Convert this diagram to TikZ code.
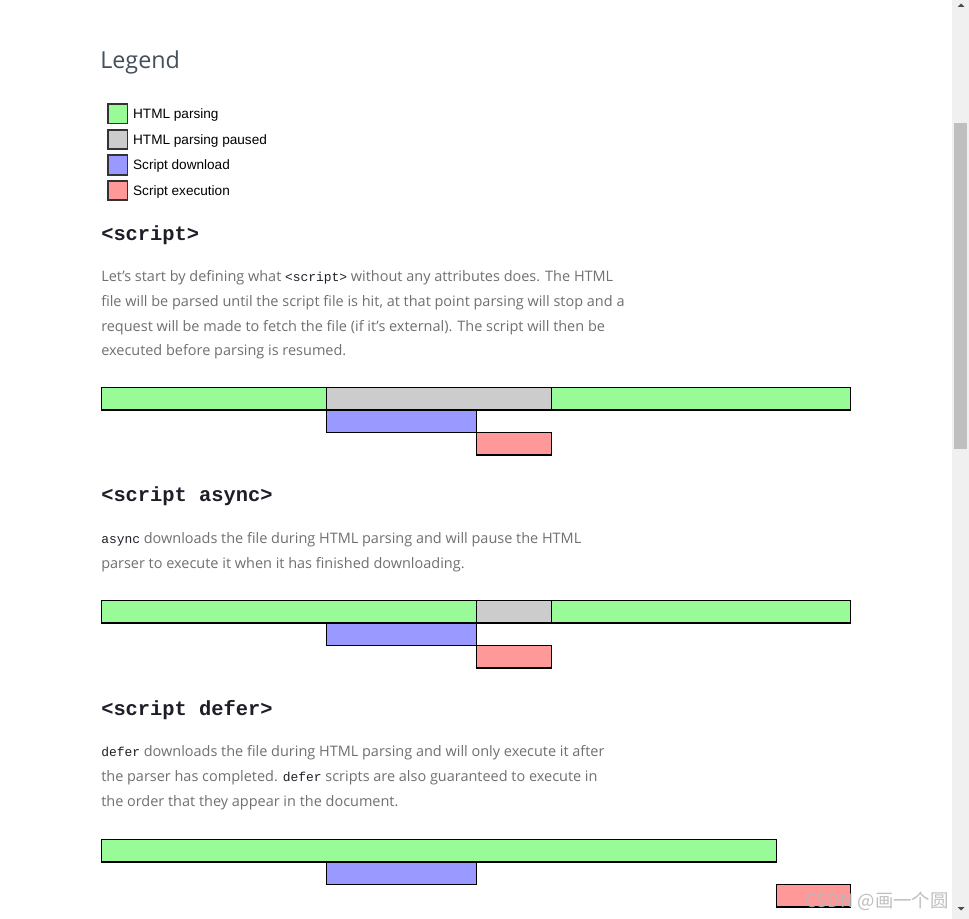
\documentclass[tikz,border=0pt]{standalone}
\usepackage{fontspec}
\setmainfont{Open Sans}
\setsansfont{Liberation Sans}
\setmonofont{Liberation Mono}
\newfontfamily\cjkfont{Noto Sans CJK SC}
\usetikzlibrary{positioning}
\definecolor{parsecol}{HTML}{98FB98}
\definecolor{pausecol}{HTML}{CCCCCC}
\definecolor{loadcol}{HTML}{9999FF}
\definecolor{execcol}{HTML}{FF9999}
\definecolor{bodyink}{HTML}{707070}
\definecolor{codeink}{HTML}{1E1E28}
\definecolor{titleink}{HTML}{44505C}
\newcommand{\srccode}[1]{{\ttfamily\fontsize{9.7}{12}\selectfont\color{codeink}#1}}
\tikzset{
		seg/.style={draw=black, line width=1.1pt},
		legbox/.style={draw=black!80, line width=1.4pt, minimum size=14.6pt, inner sep=0pt},
		legtext/.style={font=\sffamily\fontsize{10.2}{12}\selectfont, inner sep=0pt, text height=7.3pt, text depth=0pt},
		heading/.style={anchor=base west, inner sep=0pt, font=\ttfamily\bfseries\fontsize{15.3}{18}\selectfont, text=codeink},
		bodytxt/.style={anchor=base west, inner sep=0pt, font=\fontsize{10.85}{14}\selectfont, text=bodyink}
	}

\begin{document}
\begin{tikzpicture}[x=0.75pt, y=-0.75pt] % one unit = one pixel of the page, y downwards
		\useasboundingbox (0,0) rectangle (969,919);
		\fill[white] (0,0) rectangle (969,919);
		% scrollbar
		\fill[black!6] (952,0) rectangle (969,919);
		\fill[black!25] (954,123) rectangle (967,449);
		\fill[black!70] (957.5,7) -- (964.5,7) -- (961,3.5) -- cycle;
		\fill[black!70] (957.5,907) -- (964.5,907) -- (961,910.5) -- cycle;

		% legend
		\node[anchor=base west, inner sep=0pt, font=\fontsize{17.5}{20}\selectfont, text=titleink] (legend) at (100,68.3) {Legend};
		\foreach \col/\txt [count=\i from 0] in {parsecol/HTML parsing, pausecol/HTML parsing paused, loadcol/Script download, execcol/Script execution}{
			\node[legbox, fill=\col] (leg\i) at (117.8,113.8+25.6*\i) {};
			\node[legtext, right=3.3pt of leg\i] (legt\i) {\txt};
		}

		% the three sections
		\node[heading] (h1) at (101,240.7) {<script>};
		\foreach \ln [count=\k from 0] in {
			{Let’s start by defining what \srccode{<script>} without any attributes does. The HTML},
			{file will be parsed until the script file is hit, at that point parsing will stop and a},
			{request will be made to fetch the file (if it’s external). The script will then be},
			{executed before parsing is resumed.}}
			\node[bodytxt] (pa\k) at (101,281.7+24.7*\k) {\ln};

		\node[heading] (h2) at (101,501.7) {<script async>};
		\foreach \ln [count=\k from 0] in {
			{\srccode{async} downloads the file during HTML parsing and will pause the HTML},
			{parser to execute it when it has finished downloading.}}
			\node[bodytxt] (pb\k) at (101,543.7+24.7*\k) {\ln};

		\node[heading] (h3) at (101,715.7) {<script defer>};
		\foreach \ln [count=\k from 0] in {
			{\srccode{defer} downloads the file during HTML parsing and will only execute it after},
			{the parser has completed. \srccode{defer} scripts are also guaranteed to execute in},
			{the order that they appear in the document.}}
			\node[bodytxt] (pc\k) at (101,756.7+24.7*\k) {\ln};

		% timelines: top / row / start / end / colour
		\foreach \top/\row/\xa/\xb/\col in {
			387.5/0/101.7/326.7/parsecol, 387.5/0/326.7/551.7/pausecol, 387.5/0/551.7/850.3/parsecol,
			387.5/1/326.7/476.7/loadcol, 387.5/2/476.7/551.7/execcol,
			600.5/0/101.7/476.7/parsecol, 600.5/0/476.7/551.7/pausecol, 600.5/0/551.7/850.3/parsecol,
			600.5/1/326.7/476.7/loadcol, 600.5/2/476.7/551.7/execcol,
			839.5/0/101.7/776.7/parsecol, 839.5/1/326.7/476.7/loadcol, 839.5/2/776.7/850.3/execcol}
			\draw[seg, fill=\col] (\xa,\top+22.5*\row) rectangle (\xb,\top+22.5*\row+22.5);

		% watermark
		\node[anchor=base east, inner sep=0pt, font=\cjkfont\fontsize{13.8}{16}\selectfont, text=black!28, opacity=0.9] (mark) at (949,907) {CSDN @画一个圆};
	\end{tikzpicture}
\end{document}
